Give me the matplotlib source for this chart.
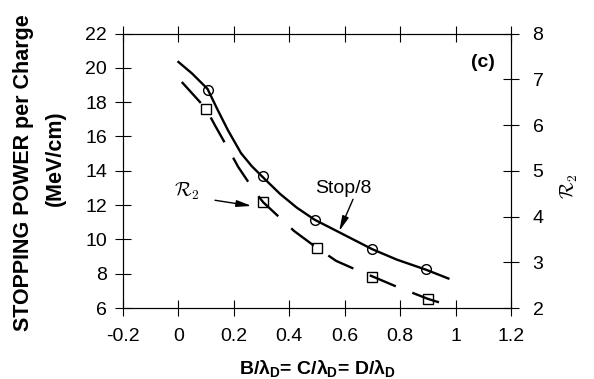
import matplotlib
matplotlib.use("Agg")
import matplotlib.pyplot as plt

# Stop/8 curve (left axis)
stop_curve_x = [0.000, 0.049, 0.105, 0.139, 0.179, 0.226, 0.265, 0.303, 0.366, 0.427,
                0.491, 0.583, 0.699, 0.788, 0.892, 0.974]
stop_curve_y = [20.34, 19.67, 18.77, 17.63, 16.35, 15.02, 14.26, 13.65, 12.66, 11.85,
                11.15, 10.39, 9.43, 8.82, 8.24, 7.72]
stop_pts_x = [0.105, 0.304, 0.493, 0.700, 0.893]
stop_pts_y = [18.72, 13.68, 11.15, 9.44, 8.25]

# R2 curve (right axis)
r2_curve_x = [0.012, 0.099, 0.132, 0.186, 0.216, 0.276, 0.306, 0.418, 0.487, 0.569,
              0.625, 0.716, 0.778, 0.900, 0.990]
r2_curve_y = [6.94, 6.36, 5.99, 5.41, 5.08, 4.54, 4.31, 3.68, 3.37, 3.03,
              2.88, 2.65, 2.49, 2.20, 2.03]
r2_pts_x = [0.099, 0.306, 0.501, 0.700, 0.900]
r2_pts_y = [6.35, 4.31, 3.32, 2.67, 2.20]

x_ticks = [-0.2, 0, 0.2, 0.4, 0.6, 0.8, 1.0, 1.2]
x_ticklabels = ["-0.2", "0", "0.2", "0.4", "0.6", "0.8", "1", "1.2"]
y_ticks = [6, 8, 10, 12, 14, 16, 18, 20, 22]
r2_ticks = [2, 3, 4, 5, 6, 7, 8]

plt.rcParams["font.family"] = ["Liberation Sans", "DejaVu Sans"]
plt.rcParams["mathtext.fontset"] = "custom"
plt.rcParams["mathtext.rm"] = "Liberation Sans:bold"
plt.rcParams["mathtext.it"] = "Liberation Sans:bold"
plt.rcParams["mathtext.bf"] = "Liberation Sans:bold"

fig = plt.figure(figsize=(5.94, 3.79), dpi=100)
ax = fig.add_axes([0.2071, 0.1873, 0.6532, 0.7243])
ax2 = ax.twinx()

ax.set_xlim(-0.2, 1.2)
ax.set_ylim(6, 22)
ax2.set_ylim(2, 8)

ax.plot(stop_curve_x, stop_curve_y, color="black", lw=1.7, solid_joinstyle="round")
ax.plot(stop_pts_x, stop_pts_y, ls="none", marker="o", ms=7, mfc="none",
        mec="black", mew=1.0)

ax2.plot(r2_curve_x, r2_curve_y, color="black", lw=1.7, dashes=(12, 7.5))
ax2.plot(r2_pts_x, r2_pts_y, ls="none", marker="s", ms=7, mfc="none",
         mec="black", mew=1.0)

ax.set_xticks(x_ticks)
ax.set_xticklabels(x_ticklabels)
ax.set_yticks(y_ticks)
ax2.set_yticks(r2_ticks)

ax.tick_params(axis="both", direction="inout", length=11, width=0.8,
               labelsize=14, top=True, right=False)
ax.tick_params(axis="y", pad=6)
ax.tick_params(axis="x", pad=9)
ax2.tick_params(axis="y", direction="inout", length=11, width=0.8,
                labelsize=14, pad=10)
for a in (ax, ax2):
    for s in a.spines.values():
        s.set_linewidth(0.8)

ax.set_xlabel(r"B/$\lambda_{\rm D}$= C/$\lambda_{\rm D}$= D/$\lambda_{\rm D}$",
              fontsize=14, fontweight="bold", labelpad=9)

fig.text(24 / 594, 1 - 173 / 379, "STOPPING POWER per Charge", rotation=90,
         fontsize=15.5, fontweight="bold", ha="center", va="center")
fig.text(55 / 594, 1 - 158 / 379, "(MeV/cm)", rotation=90,
         fontsize=15.5, fontweight="bold", ha="center", va="center")
fig.text(569 / 594, 1 - 186 / 379, r"$\mathcal{R}_2$", rotation=90,
         fontsize=14, ha="center", va="center", math_fontfamily="cm")

ax.text(1.10, 20.31, "(c)", fontsize=14, fontweight="bold", ha="center", va="center")
ax.text(0.594, 12.95, "Stop/8", fontsize=14, ha="center", va="center")
ax.text(0.031, 12.81, r"$\mathcal{R}_2$", fontsize=14, ha="center", va="center",
        math_fontfamily="cm")

arrow = dict(arrowstyle="-|>,head_length=0.9,head_width=0.2", color="black",
             lw=1.0, shrinkA=0, shrinkB=0)
ax.annotate("", xy=(0.580, 10.48), xytext=(0.630, 12.34), arrowprops=arrow)
ax.annotate("", xy=(0.264, 11.95), xytext=(0.132, 12.28), arrowprops=arrow)

fig.savefig("out.png", dpi=100)
